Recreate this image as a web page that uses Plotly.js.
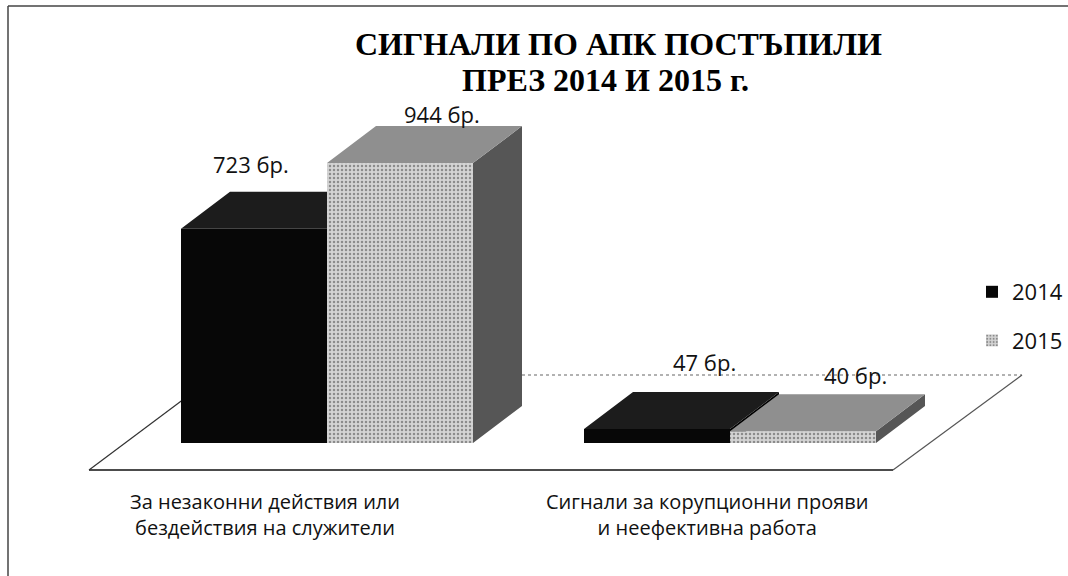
<!DOCTYPE html>
<html>
<head>
<meta charset="utf-8">
<script src="https://cdn.plot.ly/plotly-3.0.1.min.js"></script>
<style>
  html, body { margin: 0; padding: 0; background: #fff; overflow: hidden; width: 1068px; height: 576px; }
  ::-webkit-scrollbar { display: none; width: 0; height: 0; }
  html { scrollbar-width: none; }
  #chart { width: 1090px; height: 576px; }
</style>
</head>
<body>
<div id="chart"></div>
<script>
// ---------------- DATA ----------------
const categories = [
  'За незаконни действия или<br>бездействия на служители',
  'Сигнали за корупционни прояви<br>и неефективна работа'
];
const seriesNames = ['2014', '2015'];
const values2014 = [723, 47];
const values2015 = [944, 40];
const labelSuffix = ' бр.';
const titleLines = ['СИГНАЛИ ПО АПК ПОСТЪПИЛИ', 'ПРЕЗ 2014 И 2015 г.'];

// ---------------- LAYOUT / STYLE CONFIG ----------------
const W = 1090, H = 576;
const geo = {
  cat0Px: 327, catStepPx: 403, basePx: 443, pxPerUnit: 0.2965,
  barPx: 146, depthXPx: 49, depthYPx: 37
};
const floorPx = { fl: [89, 470], fr: [893, 470], br: [1022, 375], bl: [216, 375] };
const titlePos = [[618, 44], [605, 80]];
const colors = {
  s2014: { front: '#070707', top: '#1c1c1c', side: '#000000' },
  s2015: { front: '#c8c8c8', top: '#8f8f8f', side: '#565656' }
};
const labelShift2014 = [[-3, 65], [47, 67]];
const labelShift2015 = [[42, 49], [52, 56]];
const catLabelShift = [-62, -23];
const fontSans = 'Open Sans, DejaVu Sans, sans-serif';

const px2x = p => (p - geo.cat0Px) / geo.catStepPx;
const px2y = p => (geo.basePx - p) / geo.pxPerUnit;
const bw = geo.barPx / geo.catStepPx;
const ddx = geo.depthXPx / geo.catStepPx;
const ddy = geo.depthYPx / geo.pxPerUnit;
const xIdx = categories.map((c, i) => i);

function clipAbove(pts, c) {
  const out = [];
  for (let k = 0; k < pts.length; k++) {
    const a = pts[k], b = pts[(k + 1) % pts.length];
    const ain = a[1] >= c, bin = b[1] >= c;
    if (ain) out.push(a);
    if (ain !== bin) {
      const t = (c - a[1]) / (b[1] - a[1]);
      out.push([a[0] + t * (b[0] - a[0]), c]);
    }
  }
  return out;
}
function polysToXY(polys) {
  const x = [], y = [];
  polys.forEach(p => {
    if (!p.length) return;
    if (x.length) { x.push(null); y.push(null); }
    p.forEach(pt => { x.push(pt[0]); y.push(pt[1]); });
  });
  return { x, y };
}

const side14 = [], top14 = [], side15 = [], top15 = [];
xIdx.forEach(i => {
  const v1 = values2014[i], v2 = values2015[i];
  let x0 = i - bw, x1 = i;
  const s1 = [[x1, 0], [x1, v1], [x1 + ddx, v1 + ddy], [x1 + ddx, ddy]];
  side14.push(clipAbove(s1, v2));
  const c = Math.min(Math.max(v2, v1), v1 + ddy);
  top14.push([[x0, v1], [x1, v1], [x1, c], [x1 + ddx * (c - v1) / ddy, c],
              [x1 + ddx, v1 + ddy], [x0 + ddx, v1 + ddy]]);
  x0 = i; x1 = i + bw;
  side15.push([[x1, 0], [x1, v2], [x1 + ddx, v2 + ddy], [x1 + ddx, ddy]]);
  top15.push([[x0, v2], [x1, v2], [x1 + ddx, v2 + ddy], [x0 + ddx, v2 + ddy]]);
});

function faceTrace(polys, color) {
  const xy = polysToXY(polys);
  return {
    type: 'scatter', mode: 'lines', x: xy.x, y: xy.y,
    fill: 'toself', fillcolor: color,
    line: { width: 0, color: color },
    hoverinfo: 'skip', showlegend: false
  };
}

const data = [
  { type: 'bar', name: seriesNames[0], x: xIdx, y: values2014, width: bw, offset: -bw,
    marker: { color: colors.s2014.front, line: { width: 0 } }, legendgroup: 'a' },
  { type: 'bar', name: seriesNames[1], x: xIdx, y: values2015, width: bw, offset: 0,
    marker: { color: colors.s2015.front, line: { width: 0 },
      pattern: { shape: '.', fgcolor: '#8c8c8c', bgcolor: '#d4d4d4', size: 4, solidity: 0.3 } },
    legendgroup: 'b' },
  faceTrace(side14, colors.s2014.side),
  faceTrace(top14, colors.s2014.top),
  faceTrace(side15, colors.s2015.side),
  faceTrace(top15, colors.s2015.top)
];

const annotations = [];
titleLines.forEach((t, k) => {
  annotations.push({ x: titlePos[k][0] / W, y: 1 - titlePos[k][1] / H, xref: 'paper', yref: 'paper',
    text: '<b>' + t + '</b>', showarrow: false, xanchor: 'center', yanchor: 'middle',
    font: { family: 'Liberation Serif, Times New Roman, serif', size: 32, color: '#000' } });
});
xIdx.forEach(i => {
  annotations.push({ x: i - bw / 2, y: values2014[i], xref: 'x', yref: 'y',
    text: values2014[i] + labelSuffix, showarrow: false,
    xshift: labelShift2014[i][0], yshift: labelShift2014[i][1],
    xanchor: 'center', yanchor: 'middle', font: { family: fontSans, size: 22, color: '#111' } });
  annotations.push({ x: i + bw / 2, y: values2015[i], xref: 'x', yref: 'y',
    text: values2015[i] + labelSuffix, showarrow: false,
    xshift: labelShift2015[i][0], yshift: labelShift2015[i][1],
    xanchor: 'center', yanchor: 'middle', font: { family: fontSans, size: 22, color: '#111' } });
  annotations.push({ x: i, y: 1 - 514 / H, xref: 'x', yref: 'paper',
    text: categories[i], showarrow: false, xshift: catLabelShift[i],
    xanchor: 'center', yanchor: 'middle', align: 'center',
    font: { family: fontSans, size: 20, color: '#111' } });
});

const P = floorPx;
const shapes = [
  { type: 'path', xref: 'x', yref: 'y', layer: 'below',
    path: `M${px2x(P.fl[0])},${px2y(P.fl[1])} L${px2x(P.fr[0])},${px2y(P.fr[1])} L${px2x(P.br[0])},${px2y(P.br[1])} L${px2x(P.bl[0])},${px2y(P.bl[1])} Z`,
    fillcolor: '#ffffff', line: { width: 0 } },
  { type: 'line', xref: 'x', yref: 'y', layer: 'below',
    x0: px2x(P.fl[0]), y0: px2y(P.fl[1]), x1: px2x(P.fr[0]), y1: px2y(P.fr[1]),
    line: { color: '#111', width: 1.5 } },
  { type: 'line', xref: 'x', yref: 'y', layer: 'below',
    x0: px2x(P.fl[0]), y0: px2y(P.fl[1]), x1: px2x(P.bl[0]), y1: px2y(P.bl[1]),
    line: { color: '#333', width: 1.2 } },
  { type: 'line', xref: 'x', yref: 'y', layer: 'below',
    x0: px2x(P.fr[0]), y0: px2y(P.fr[1]), x1: px2x(P.br[0]), y1: px2y(P.br[1]),
    line: { color: '#555', width: 1.2 } },
  { type: 'line', xref: 'x', yref: 'y', layer: 'below',
    x0: px2x(P.bl[0]), y0: px2y(P.bl[1]), x1: px2x(P.br[0]), y1: px2y(P.br[1]),
    line: { color: '#666', width: 1.2, dash: 'dot' } },
  // white strip covering the top-right edge (no frame there in the scan)
  { type: 'rect', xref: 'paper', yref: 'paper', layer: 'above',
    x0: 1054 / W, x1: 1, y0: 1 - 8 / H, y1: 1 - 115 / H,
    fillcolor: '#ffffff', line: { width: 0 } },
  { type: 'line', xref: 'paper', yref: 'paper', x0: 8 / W, y0: 1 - 6 / H, x1: 8 / W, y1: 0,
    line: { color: '#444', width: 1.5 } },
  { type: 'line', xref: 'paper', yref: 'paper', x0: 8 / W, y0: 1 - 6 / H, x1: 1, y1: 1 - 6 / H,
    line: { color: '#444', width: 1.5 } }
];

const layout = {
  width: W, height: H,
  margin: { l: 0, r: 0, t: 0, b: 0, pad: 0 },
  paper_bgcolor: '#ffffff', plot_bgcolor: '#ffffff',
  barmode: 'overlay',
  xaxis: { range: [px2x(0), px2x(W)], visible: false, fixedrange: true },
  yaxis: { range: [px2y(H), px2y(0)], visible: false, fixedrange: true },
  showlegend: true,
  legend: {
    x: 972 / W, y: 1 - 271 / H, xanchor: 'left', yanchor: 'top',
    traceorder: 'grouped', tracegroupgap: 17,
    bgcolor: 'rgba(0,0,0,0)', font: { family: fontSans, size: 22, color: '#111' }
  },
  annotations: annotations,
  shapes: shapes
};

Plotly.newPlot('chart', data, layout, { displayModeBar: false, staticPlot: true });
</script>
</body>
</html>
